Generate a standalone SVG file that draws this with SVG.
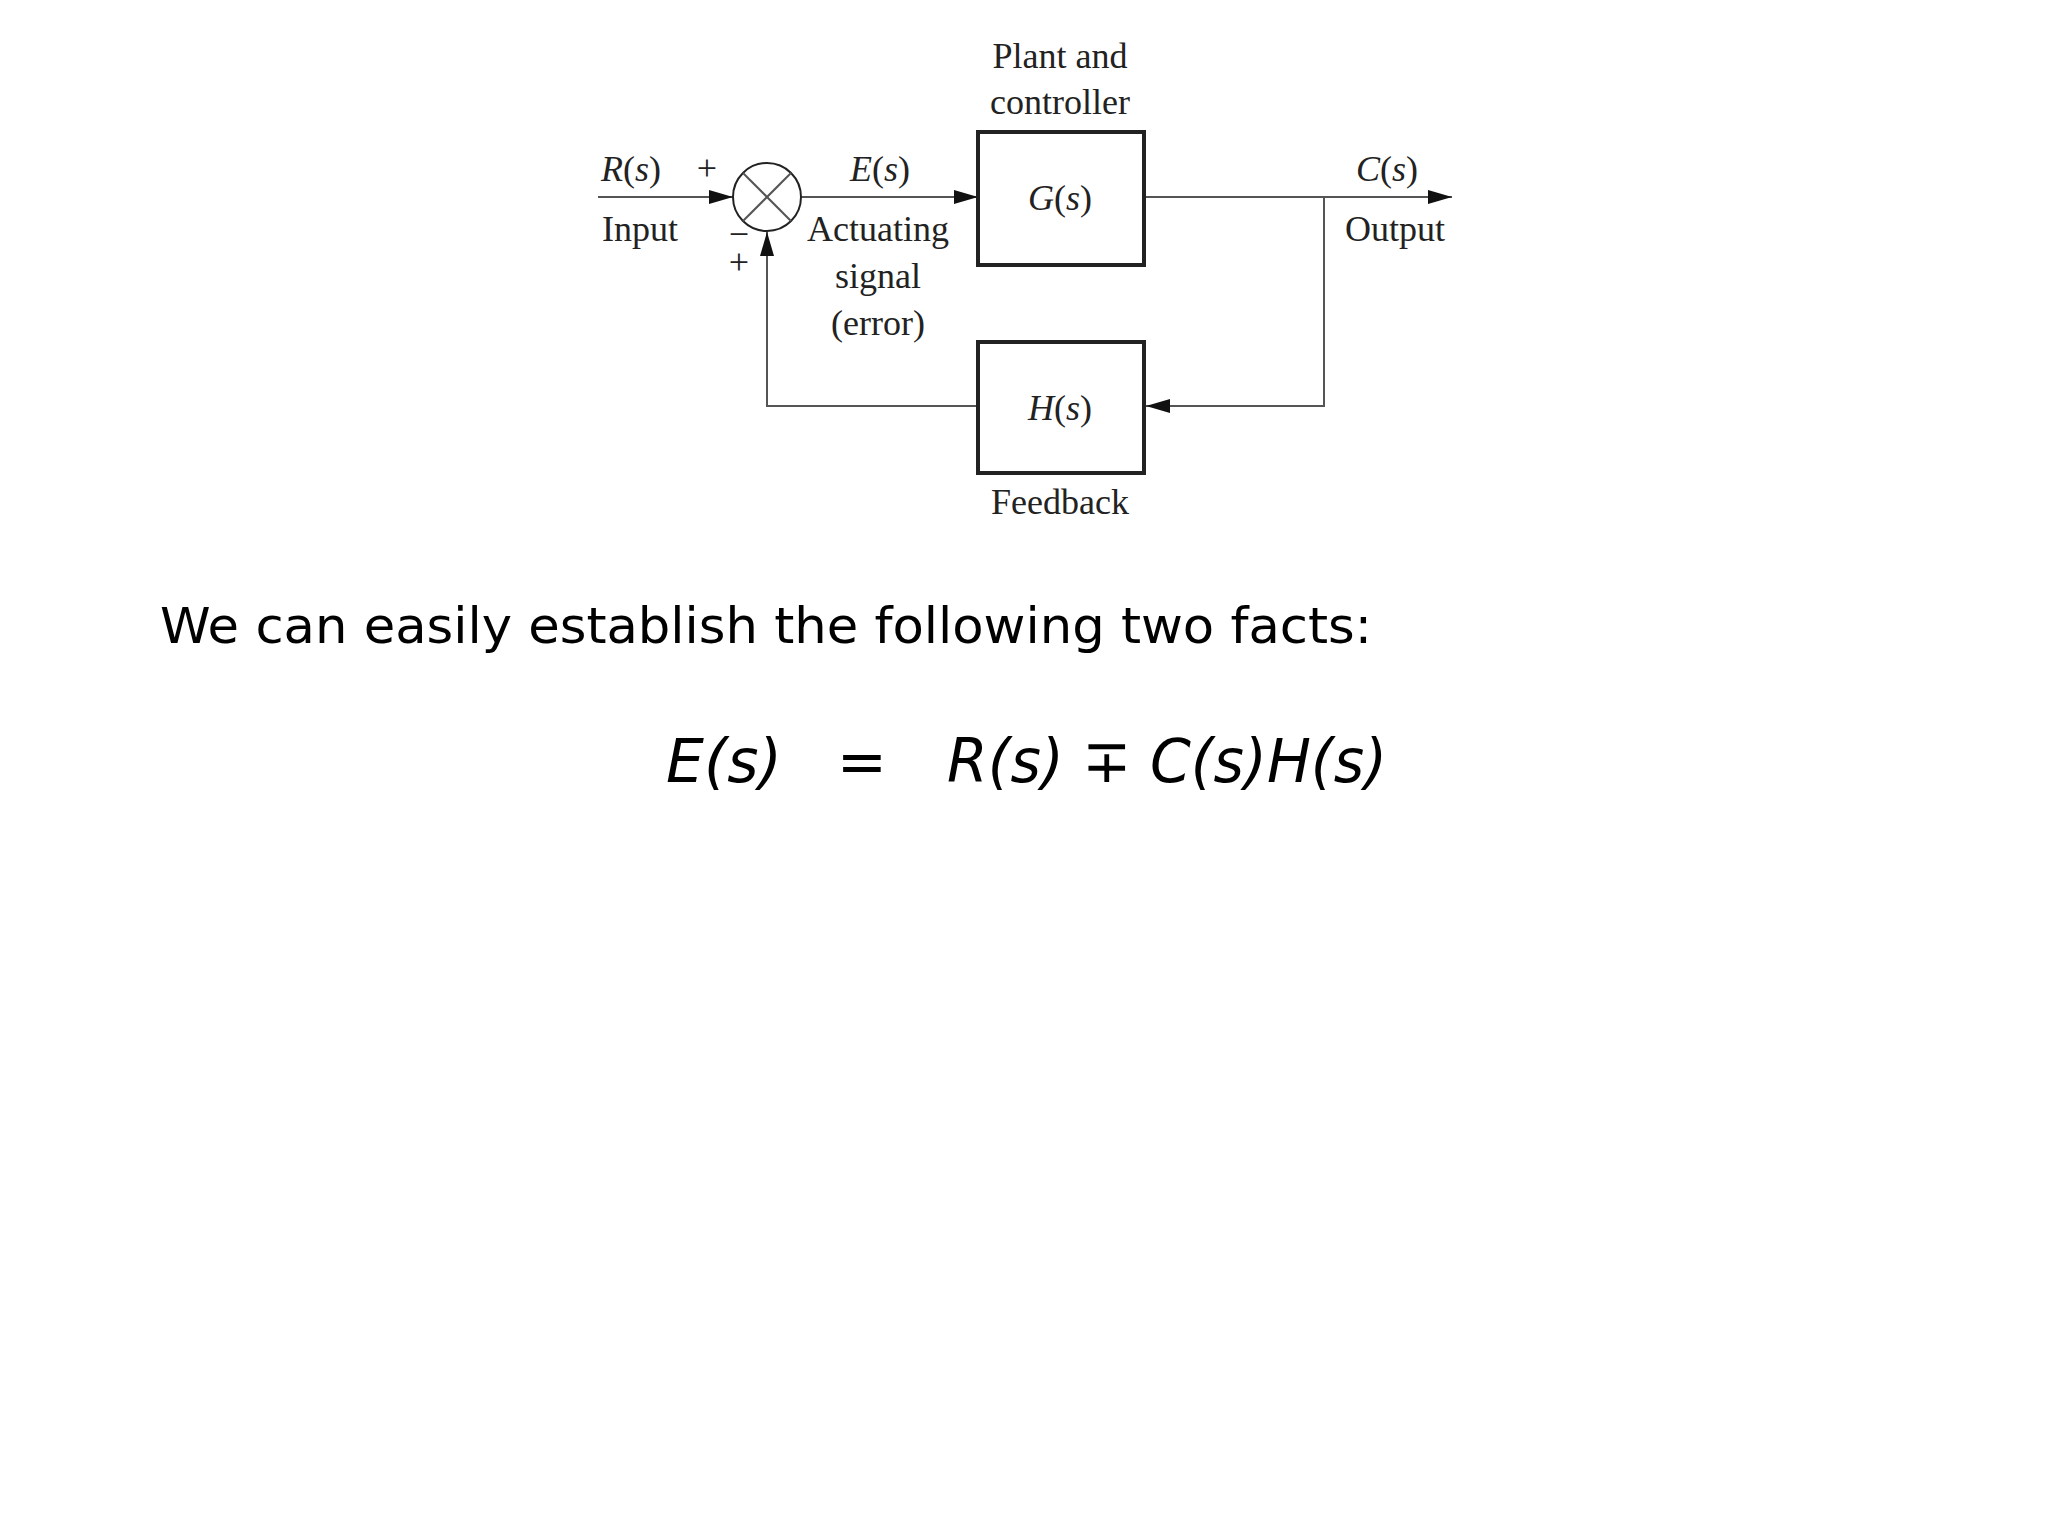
<svg xmlns="http://www.w3.org/2000/svg" width="2048" height="1536" viewBox="0 0 2048 1536">
<defs>
<style>
.s{font-family:"Liberation Serif",serif;font-size:36px;fill:#222;text-anchor:middle}
.i{font-style:italic}
.ln{stroke:#555;stroke-width:2;fill:none}
.bx{stroke:#222;stroke-width:4;fill:#fff}
.t{font-family:"DejaVu Sans","Liberation Sans",sans-serif;fill:#000}
</style>
<marker id="a" markerWidth="24" markerHeight="14" refX="24" refY="7" orient="auto" markerUnits="userSpaceOnUse"><path d="M0,0L24,7L0,14z" fill="#111"/></marker>
</defs>
<rect width="2048" height="1536" fill="#fff"/>
<g id="connectors">
<line class="ln" x1="598" y1="197" x2="733" y2="197" marker-end="url(#a)"/>
<line class="ln" x1="801" y1="197" x2="978" y2="197" marker-end="url(#a)"/>
<line class="ln" x1="1144" y1="197" x2="1452" y2="197" marker-end="url(#a)"/>
<polyline class="ln" points="1324,197 1324,406 1146,406" marker-end="url(#a)"/>
<polyline class="ln" points="978,406 767,406 767,232" marker-end="url(#a)"/>
</g>
<g id="sum">
<circle cx="767" cy="197" r="34" fill="#fff" stroke="#222" stroke-width="2"/>
<line class="ln" x1="743" y1="173" x2="791" y2="221" stroke="#222"/>
<line class="ln" x1="791" y1="173" x2="743" y2="221" stroke="#222"/>
<text class="s" x="707" y="180" font-size="26">+</text>
<text class="s" x="739" y="246" font-size="24">−</text>
<text class="s" x="739" y="274" font-size="26">+</text>
</g>
<g id="G">
<rect class="bx" x="978" y="132" width="166" height="133"/>
<text class="s" x="1060" y="210"><tspan class="i">G</tspan>(<tspan class="i">s</tspan>)</text>
<text class="s" x="1060" y="68">Plant and</text>
<text class="s" x="1060" y="114">controller</text>
</g>
<g id="H">
<rect class="bx" x="978" y="342" width="166" height="131"/>
<text class="s" x="1060" y="420"><tspan class="i">H</tspan>(<tspan class="i">s</tspan>)</text>
<text class="s" x="1060" y="514">Feedback</text>
</g>
<g id="labels">
<text class="s" x="631" y="181"><tspan class="i">R</tspan>(<tspan class="i">s</tspan>)</text>
<text class="s" x="640" y="241">Input</text>
<text class="s" x="880" y="181"><tspan class="i">E</tspan>(<tspan class="i">s</tspan>)</text>
<text class="s" x="878" y="241">Actuating</text>
<text class="s" x="878" y="288">signal</text>
<text class="s" x="878" y="335">(error)</text>
<text class="s" x="1387" y="181"><tspan class="i">C</tspan>(<tspan class="i">s</tspan>)</text>
<text class="s" x="1395" y="241">Output</text>
</g>
<text class="t" x="160" y="643" font-size="50" textLength="1212" lengthAdjust="spacingAndGlyphs">We can easily establish the following two facts:</text>
<g class="t" font-size="60" font-style="italic">
<text x="666" y="782">E(s)</text>
<text x="862" y="782" text-anchor="middle" font-style="normal">=</text>
<text x="947" y="782" textLength="440" lengthAdjust="spacingAndGlyphs">R(s) <tspan font-style="normal">∓</tspan> C(s)H(s)</text>
</g>
</svg>
